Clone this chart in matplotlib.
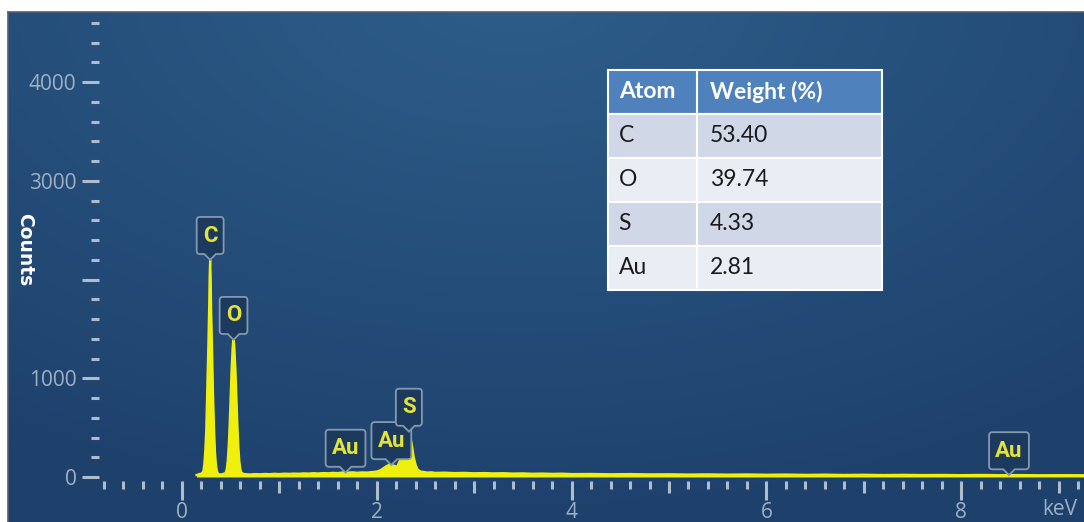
import numpy as np
import matplotlib.pyplot as plt
from matplotlib.path import Path
from matplotlib.colors import LinearSegmentedColormap
from matplotlib.ticker import FixedLocator, FuncFormatter

plt.rcParams['font.family'] = ['Open Sans', 'DejaVu Sans']

# EDS spectrum (energy in keV, counts)
energy_kev = [0.15, 0.18, 0.20, 0.21, 0.22, 0.23, 0.24, 0.25, 0.26, 0.27, 0.28, 0.285,
              0.29, 0.295, 0.30, 0.31, 0.32, 0.33, 0.34, 0.35, 0.36, 0.37, 0.38, 0.40,
              0.42, 0.44, 0.45, 0.46, 0.47, 0.48, 0.49, 0.50, 0.51, 0.52, 0.525, 0.53,
              0.535, 0.54, 0.55, 0.56, 0.57, 0.58, 0.59, 0.60, 0.61, 0.63, 0.66, 0.70,
              0.75, 0.80, 0.85, 0.90, 0.95, 1.00, 1.05, 1.10, 1.15, 1.20, 1.25, 1.30,
              1.35, 1.40, 1.45, 1.50, 1.55, 1.60, 1.65, 1.70, 1.75, 1.80, 1.85, 1.90,
              1.95, 2.00, 2.04, 2.07, 2.10, 2.13, 2.16, 2.19, 2.21, 2.23, 2.26, 2.28,
              2.30, 2.32, 2.33, 2.34, 2.36, 2.38, 2.40, 2.42, 2.45, 2.48, 2.52, 2.56,
              2.60, 2.70, 2.80, 2.90, 3.00, 3.10, 3.20, 3.30, 3.40, 3.50, 3.60, 3.70,
              3.80, 3.90, 4.00, 4.20, 4.40, 4.60, 4.80, 5.00, 5.20, 5.40, 5.60, 5.80,
              6.00, 6.20, 6.40, 6.60, 6.80, 7.00, 7.20, 7.40, 7.60, 7.80, 8.00, 8.20,
              8.40, 8.60, 8.80, 9.00, 9.30]
counts = [20, 30, 35, 40, 60, 130, 270, 480, 860, 1280, 1740, 2050,
          2200, 2040, 1720, 1270, 840, 490, 250, 120, 60, 35, 28, 25,
          30, 36, 45, 80, 160, 310, 530, 810, 1090, 1300, 1370, 1390,
          1360, 1290, 1080, 800, 520, 300, 160, 80, 45, 32, 28, 26,
          30, 28, 31, 29, 33, 30, 34, 32, 35, 33, 37, 35,
          39, 36, 40, 38, 42, 40, 46, 44, 48, 43, 47, 45,
          50, 55, 70, 90, 110, 125, 120, 110, 105, 150, 200, 250,
          340, 440, 460, 430, 330, 200, 120, 75, 55, 52, 45, 48,
          42, 44, 40, 42, 38, 40, 37, 39, 35, 37, 33, 35,
          32, 34, 30, 31, 28, 30, 27, 28, 25, 27, 24, 26,
          23, 25, 22, 24, 21, 23, 20, 22, 20, 21, 19, 21,
          19, 20, 18, 19, 18]

# element markers: symbol, line energy (keV)
line_labels = ['C', 'O', 'Au', 'Au', 'S', 'Au']
line_energy = [0.29, 0.53, 1.68, 2.15, 2.33, 8.49]

# quantification table
atoms = ['C', 'O', 'S', 'Au']
weight_pct = ['53.40', '39.74', '4.33', '2.81']

W, H = 1084, 522
fig = plt.figure(figsize=(W / 100, H / 100), dpi=100)
fig.patch.set_facecolor('white')
panel = [8 / W, 0, (W - 8) / W, (H - 12) / H]

# background panel with soft radial shading
bg = fig.add_axes(panel)
gx, gy = np.meshgrid(np.linspace(0, 1, 400), np.linspace(0, 1, 200))
dist = np.sqrt(((gx - 0.47) * 1.1) ** 2 + ((gy - 1.05) * 0.9) ** 2)
shade = np.clip(dist / 0.95, 0, 1)
bg_cmap = LinearSegmentedColormap.from_list('panel', ['#2d5c89', '#1e416c'])
bg.imshow(shade, cmap=bg_cmap, extent=(0, 1, 0, 1), origin='lower', aspect='auto')
bg.set_xlim(0, 1)
bg.set_ylim(0, 1)
bg.set_xticks([])
bg.set_yticks([])
for s in ['right', 'bottom']:
    bg.spines[s].set_visible(False)
for s in ['top', 'left']:
    bg.spines[s].set_color('#55606c')
    bg.spines[s].set_linewidth(1.2)

ax = fig.add_axes(panel, facecolor='none')
ax.set_xlim(-1.785, 9.26)
ax.set_ylim(-456, 4711)

yellow = '#f0f00e'
ax.fill_between(energy_kev, 0, counts, color=yellow, lw=0, zorder=3)
ax.plot(energy_kev, counts, color=yellow, lw=1.6, zorder=3)

PADX, PADY, TIP = 0.28, 0.34, 0.26


def callout(x0, y0, width, height, mutation_size):
    m = mutation_size
    padx, pady, tip, r = PADX * m, PADY * m, TIP * m, 0.15 * m
    L, R = x0 - padx, x0 + width + padx
    B, T = y0 - pady, y0 + height + pady
    cx = x0 + width / 2
    verts = [(L + r, B), (cx - tip, B), (cx, B - tip), (cx + tip, B), (R - r, B),
             (R, B), (R, B + r), (R, T - r), (R, T), (R - r, T), (L + r, T),
             (L, T), (L, T - r), (L, B + r), (L, B), (L + r, B), (L + r, B)]
    codes = [Path.MOVETO, Path.LINETO, Path.LINETO, Path.LINETO, Path.LINETO,
             Path.CURVE3, Path.CURVE3, Path.LINETO, Path.CURVE3, Path.CURVE3, Path.LINETO,
             Path.CURVE3, Path.CURVE3, Path.LINETO, Path.CURVE3, Path.CURVE3, Path.CLOSEPOLY]
    return Path(verts, codes)


label_size = 16
lift = (PADY + TIP) * label_size
for name, e in zip(line_labels, line_energy):
    c = np.interp(e, energy_kev, counts)
    ax.annotate(name, xy=(e, c), xytext=(0, lift), textcoords='offset points',
                ha='center', va='bottom', color='#e3e33a', fontsize=label_size,
                fontweight='bold', family='Roboto', zorder=5,
                bbox=dict(boxstyle=callout, fc='#1c3a5d', ec='#8499b0', lw=1.3))

# axes: ticks only, spines hidden
for s in ['top', 'right']:
    ax.spines[s].set_visible(False)
ax.spines['left'].set_position(('data', -0.85))
ax.spines['bottom'].set_position(('data', -40))
ax.spines['left'].set_color('none')
ax.spines['bottom'].set_color('none')

tick_col = '#aebccb'
lab_col = '#9eb0c4'
ax.yaxis.set_major_locator(FixedLocator([0, 1000, 2000, 3000, 4000]))
ax.yaxis.set_minor_locator(FixedLocator([v for v in range(200, 4601, 200) if v % 1000]))
ax.yaxis.set_major_formatter(FuncFormatter(lambda v, p: '' if v == 2000 else f'{v:.0f}'))
ax.xaxis.set_major_locator(FixedLocator([0, 2, 4, 6, 8]))
ax.xaxis.set_minor_locator(FixedLocator([round(-0.8 + 0.2 * i, 1) for i in range(51)
                                         if round(-0.8 + 0.2 * i, 1) % 1]))
ax.tick_params(axis='y', which='major', direction='out', length=12.2, width=2.2,
               color=tick_col, labelcolor=lab_col, labelsize=15, pad=4)
ax.tick_params(axis='y', which='minor', direction='out', length=5.8, width=2.2,
               color=tick_col)
ax.tick_params(axis='x', which='major', direction='out', length=13.5, width=2.2,
               color=tick_col, labelcolor=lab_col, labelsize=15, pad=2)
ax.tick_params(axis='x', which='minor', direction='out', length=5.8, width=2.2,
               color=tick_col)

# medium ticks at odd keV
sec = ax.secondary_xaxis(location=(-40 + 456) / (4711 + 456))
sec.set_xticks([1, 3, 5, 7, 9])
sec.set_xticklabels([])
sec.tick_params(axis='x', direction='out', length=8.6, width=2.2, color=tick_col)
sec.spines['bottom'].set_visible(False)

ax.text(8.83, -330, 'keV', color=lab_col, fontsize=15,
        ha='left', va='center', clip_on=False)
fig.text(25 / W, 1 - 250 / H, 'Counts', rotation=270, color='white', fontsize=13.5,
         fontweight='bold', family='DejaVu Sans', ha='center', va='center')

# weight-percent table
tax = fig.add_axes([608 / W, (H - 290) / H, 274 / W, 220 / H])
tax.axis('off')
tab = tax.table(cellText=[[a, w] for a, w in zip(atoms, weight_pct)],
                colLabels=['Atom', 'Weight (%)'], colWidths=[89 / 274, 185 / 274],
                cellLoc='left', colLoc='left', bbox=[0, 0, 1, 1])
tab.auto_set_font_size(False)
row_cols = ['#d0d8e8', '#e9edf4']
for (r, c), cell in tab.get_celld().items():
    cell.set_edgecolor('white')
    cell.set_linewidth(1.5)
    cell.PAD = 0.12 if c == 0 else 0.07
    txt = cell.get_text()
    txt.set_fontsize(16.5)
    txt.set_family('Lato')
    if r == 0:
        cell.set_facecolor('#4f81bd')
        txt.set_color('white')
        txt.set_fontweight('bold')
    else:
        cell.set_facecolor(row_cols[(r - 1) % 2])
        txt.set_color('#1a1a1a')

fig.savefig('out.png', dpi=100, facecolor='white')
